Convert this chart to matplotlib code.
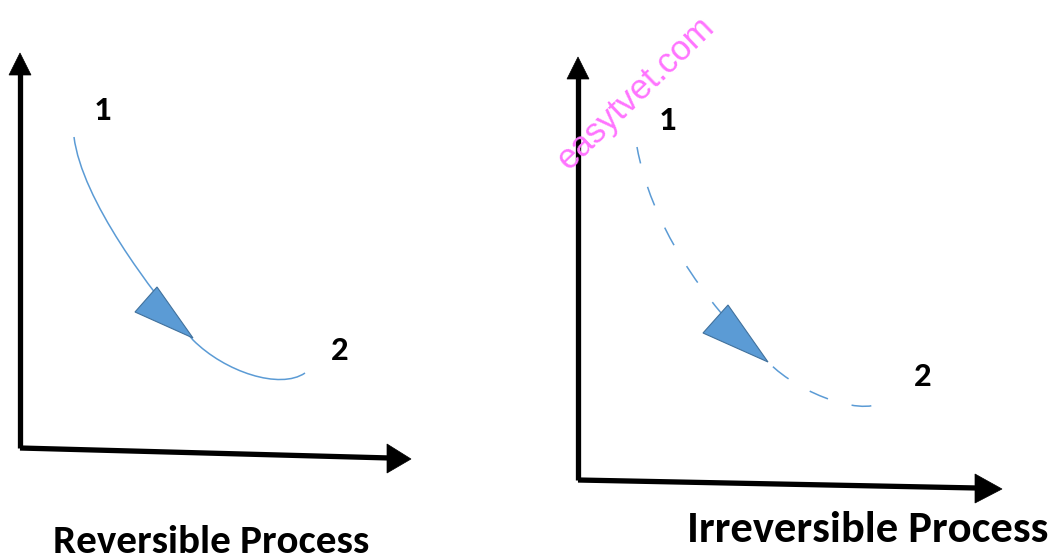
import matplotlib
matplotlib.use("Agg")
import matplotlib.pyplot as plt
from matplotlib.path import Path
from matplotlib.patches import PathPatch, Polygon

# canvas in pixels of the reference picture
W, H = 1061, 558

# curve control points (cubic bezier, two pieces each)
rev_curve = [(74, 137), (82, 200), (150, 290), (193, 340),
             (225, 372), (280, 390), (305, 373)]
irr_curve = [(637, 147), (650, 220), (700, 300), (768, 362),
             (800, 395), (870, 420), (887, 398)]

# direction arrowheads on the curves
rev_head = [(135, 312), (157, 287), (193, 338)]
irr_head = [(703, 333), (728, 305), (768, 362)]

# axis lines (origin -> end) and their arrowheads
axes_lines = [
    [(20, 448), (20, 72)], [(20, 448), (390, 458)],
    [(578, 480), (578, 76)], [(578, 480), (977, 488)],
]
axes_heads = [
    [(9, 75), (31, 75), (20, 53)],
    [(387, 444), (387, 473), (411, 459)],
    [(567, 79), (589, 79), (578, 57)],
    [(975, 474), (975, 503), (1002, 489)],
]

point_labels = ["1", "2", "1", "2"]
point_pos = [(102, 110), (340, 351), (667, 120), (923, 376)]

titles = ["Reversible Process", "Irreversible Process"]
title_pos = [(211, 553), (868, 542)]
title_size = [29.5, 32]

blue = "#5B9BD5"
edge = "#41719C"
font = ["Carlito", "Lato", "DejaVu Sans"]

fig = plt.figure(figsize=(W / 100, H / 100), dpi=100)
ax = fig.add_axes([0, 0, 1, 1])
ax.set_xlim(0, W)
ax.set_ylim(H, 0)
ax.axis("off")

codes = [Path.MOVETO] + [Path.CURVE4] * 6
ax.add_patch(PathPatch(Path(rev_curve, codes), fill=False, ec=blue, lw=1.1))
ax.add_patch(PathPatch(Path(irr_curve, codes), fill=False, ec=blue, lw=1.1,
                       linestyle=(2, (13, 16))))

for hd in [rev_head, irr_head]:
    ax.add_patch(Polygon(hd, closed=True, fc=blue, ec=edge, lw=0.8))

for ln in axes_lines:
    xs, ys = zip(*ln)
    ax.plot(xs, ys, color="black", lw=3.8, solid_capstyle="butt")
for hd in axes_heads:
    ax.add_patch(Polygon(hd, closed=True, fc="black", ec="black", lw=0.5))

for s, (x, y) in zip(point_labels, point_pos):
    ax.text(x, y, s, fontsize=25, fontweight="bold", family=font,
            ha="center", va="center")

for s, (x, y), fs in zip(titles, title_pos, title_size):
    ax.text(x, y, s, fontsize=fs, fontweight="bold", family=font,
            ha="center", va="baseline")

# watermark
ax.text(636, 93, "easytvet.com", fontsize=25, color="#FF73FF",
        family=["Liberation Sans", "DejaVu Sans"], rotation=44,
        ha="center", va="center", rotation_mode="anchor")

plt.savefig("out.png", dpi=100)
